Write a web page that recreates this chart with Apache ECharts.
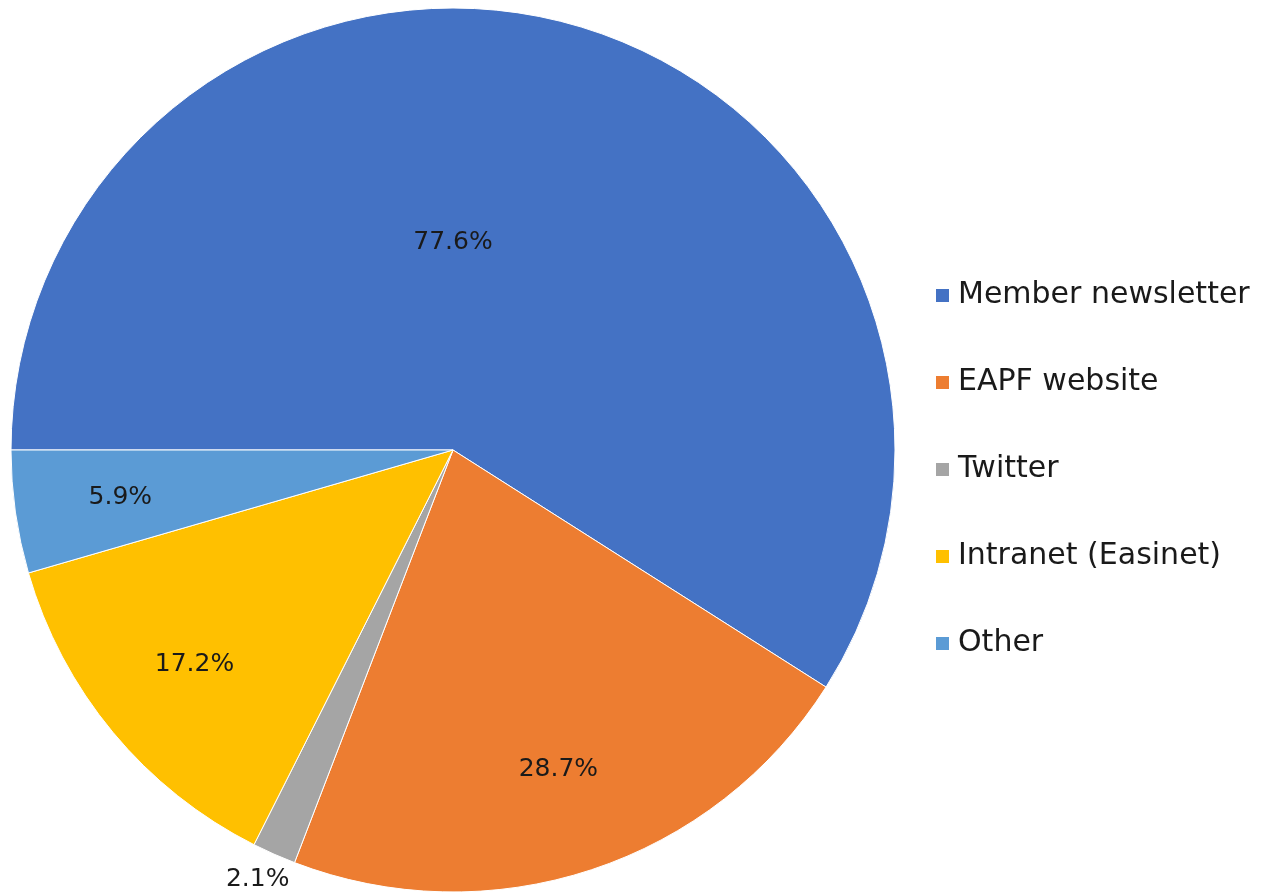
<!DOCTYPE html>
<html>
<head>
<meta charset="utf-8">
<script src="https://cdn.jsdelivr.net/npm/echarts@6/dist/echarts.min.js"></script>
<style>
  html, body { margin: 0; padding: 0; background: #fff; }
  #main { width: 1264px; height: 894px; }
</style>
</head>
<body>
<div id="main"></div>
<script>
// 数据
var categories = ['Member newsletter', 'EAPF website', 'Twitter', 'Intranet (Easinet)', 'Other']
var values = [77.6, 28.7, 2.1, 17.2, 5.9]
var colors = ['#4472C4', '#ED7D31', '#A5A5A5', '#FFC000', '#5B9BD5']

var pieCenter = [453, 450]
var fontName = 'DejaVu Sans'

var myChart = echarts.init(document.getElementById('main'))

var seriesData = categories.map(function (name, i) {
  var item = { name: name, value: values[i] }
  if (name === 'Twitter') {
    // 小扇区标签放在外面
    item.label = { position: 'outside' }
    item.labelLine = { show: false, length: 28, length2: 0 }
  }
  return item
})

var option = {
  color: colors,
  animation: false,
  legend: {
    orient: 'vertical',
    left: 934,
    top: 280,
    padding: 0,
    icon: 'rect',
    itemWidth: 15,
    itemHeight: 15,
    itemGap: 56,
    textStyle: {
      color: '#1a1a1a',
      fontSize: 30,
      lineHeight: 31,
      fontFamily: fontName,
      padding: [0, 0, 0, 3]
    },
    data: categories
  },
  series: [
    {
      type: 'pie',
      center: pieCenter,
      radius: 442,
      startAngle: 180,
      clockwise: true,
      avoidLabelOverlap: false,
      itemStyle: {
        borderColor: '#fff',
        borderWidth: 1
      },
      label: {
        show: true,
        position: 'inside',
        color: '#1a1a1a',
        fontSize: 25,
        fontFamily: fontName,
        formatter: function (p) {
          return p.value.toFixed(1) + '%'
        }
      },
      labelLine: { show: false },
      emphasis: { scale: false },
      labelLayout: function (params) {
        var r = params.labelRect
        var vx = r.x + r.width / 2 - pieCenter[0]
        var vy = r.y + r.height / 2 - pieCenter[1]
        if (params.dataIndex === 0) {
          // 大扇区标签放在圆心正上方
          return { dx: -vx, dy: 8 }
        }
        if (params.dataIndex === 2) {
          return { align: 'center' }
        }
        // 把扇区内的标签往外推一些
        return { dx: vx * 0.5, dy: vy * 0.5 }
      },
      data: seriesData
    }
  ]
}

myChart.setOption(option)
</script>
</body>
</html>
